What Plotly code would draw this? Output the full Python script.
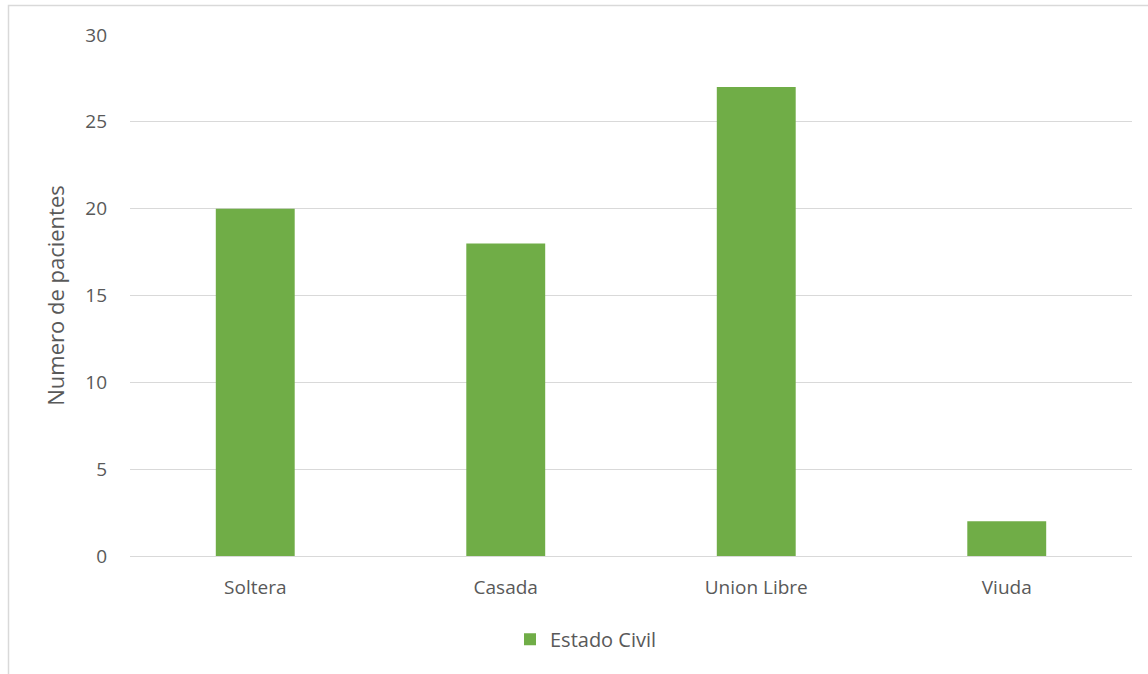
import plotly.graph_objects as go

# Patients by marital status
categories = ["Soltera", "Casada", "Union Libre", "Viuda"]
values = [20, 18, 27, 2]
y_ticks = [0, 5, 10, 15, 20, 25, 30]
series_name = "Estado Civil"
y_title = "Numero de pacientes"

W, H = 1148, 674
L, R, T, B = 130, 16, 35, 118
plot_w = W - L - R
plot_h = H - T - B

font_family = "Open Sans, Calibri, Carlito, sans-serif"
text_color = "#595959"
grid_color = "#d9d9d9"

fig = go.Figure(
    go.Bar(
        x=categories,
        y=values,
        name=series_name,
        marker=dict(color="#70ad47", line=dict(width=0)),
        showlegend=True,
    )
)

# Outer chart frame, partly clipped at the right and bottom edges
fig.add_shape(
    type="rect",
    xref="paper", yref="paper",
    x0=(8.5 - L) / plot_w, x1=(W + 20 - L) / plot_w,
    y0=-(H + 20 - T - plot_h) / plot_h, y1=1 + (T - 5.5) / plot_h,
    line=dict(color=grid_color, width=1.5),
    fillcolor="rgba(0,0,0,0)",
    layer="below",
)

fig.update_layout(
    width=W, height=H,
    margin=dict(l=L, r=R, t=T, b=B),
    paper_bgcolor="white",
    plot_bgcolor="white",
    bargap=0.685,
    font=dict(family=font_family, size=19, color=text_color),
    xaxis=dict(
        showgrid=False,
        showline=False,
        ticks="",
        tickfont=dict(size=19, color=text_color),
        ticklabelstandoff=18,
    ),
    yaxis=dict(
        range=[0, 30],
        tickvals=y_ticks,
        showgrid=True,
        gridcolor=grid_color,
        gridwidth=1,
        zeroline=True,
        zerolinecolor=grid_color,
        zerolinewidth=1,
        showline=False,
        ticks="",
        ticklabelstandoff=22,
        tickfont=dict(size=19, color=text_color),
        title=dict(text=y_title, font=dict(size=22, color=text_color), standoff=14),
    ),
    legend=dict(
        orientation="h",
        x=(510 - L) / plot_w, xanchor="left",
        y=-0.16, yanchor="middle",
        font=dict(size=20, color=text_color),
        itemwidth=30,
    ),
)

fig.write_html("out.html")
